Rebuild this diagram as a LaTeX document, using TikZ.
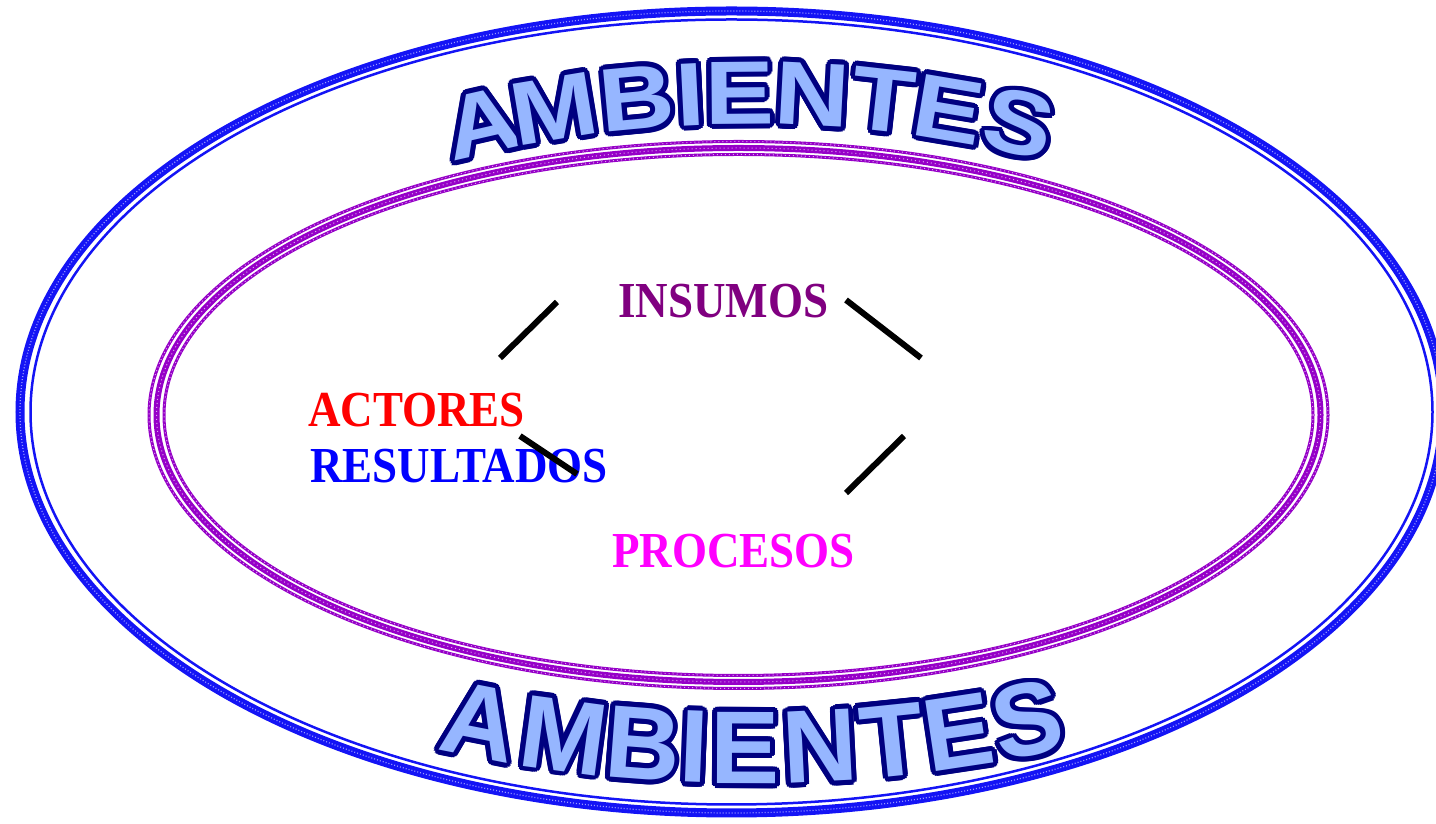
\documentclass[tikz,border=0pt]{standalone}
\usepackage{fontspec}
\setmainfont{Liberation Serif}
\newfontfamily\artfont{Liberation Sans}
\usetikzlibrary{calc}
\definecolor{ringblue}{RGB}{20,20,245}
\definecolor{ringpurple}{RGB}{150,0,200}
\definecolor{artnavy}{RGB}{0,0,128}
\definecolor{artfill}{RGB}{150,182,255}
\definecolor{insumos}{RGB}{128,0,128}
\definecolor{procesos}{RGB}{255,0,255}
\newcommand{\artletter}[4]{%
  \foreach \k [count=\j] in {0,22.5,...,337.5}
    {\node[rotate=#3, shift={(\k:5pt)}, art, text=artnavy] (#1-o\j) at #2 {#4};}
  \node[rotate=#3, art, text=artfill] (#1) at #2 {#4};}

\begin{document}
\begin{tikzpicture}[x=1pt,y=1pt,
  seg/.style={line width=6pt},
  lbl/.style={font=\fontsize{45}{45}\selectfont\bfseries, inner sep=0, anchor=base west, yscale=1.12},
  art/.style={font=\artfont\bfseries\fontsize{90}{90}\selectfont, inner sep=0, xscale=1.15},
  dots/.style={line width=1pt, dash pattern=on 1pt off 3pt}]
\useasboundingbox (0,0) rectangle (1436,824);
\clip (0,0) rectangle (1436,824);
\draw[ringblue, line width=9pt] (731.5,412) ellipse (711.5 and 401);
\draw[blue!40!white, line width=1.2pt, dash pattern=on 1pt off 2pt] (731.5,412) ellipse (711.5 and 401);
\draw[ringblue, line width=2.5pt] (731.5,412) ellipse (701 and 392.5);
\draw[ringpurple, line width=3pt] (738.5,409) ellipse (589.5 and 273.5);
\draw[ringpurple, line width=6pt] (738.5,409) ellipse (582 and 267);
\draw[ringpurple, line width=3pt] (738.5,409) ellipse (574.5 and 260.5);
\draw[white!65!ringpurple, dots] (738.5,409) ellipse (589.5 and 273.5);
\draw[white!65!ringpurple, dots] (738.5,409) ellipse (582 and 267);
\draw[white!65!ringpurple, dots] (738.5,409) ellipse (574.5 and 260.5);
\coordinate (topc) at (750,-469);
\coordinate (botc) at (750,1476);
\foreach \ch/\ang [count=\i] in {A/12.9,M/9.4,B/5.4,I/2.85,E/0.5,N/-3,T/-6.4,E/-9.55,S/-12.95}
  {\artletter{top\i}{($(topc)+(90+\ang:1200)$)}{\ang}{\ch}}
\begin{scope}[art/.append style={yscale=1.15}]
\foreach \ch/\ang [count=\i] in {A/-11.13,M/-7.65,B/-4.38,I/-2.27,E/-0.2,N/2.86,T/5.83,E/8.57,S/11.42}
  {\artletter{bot\i}{($(botc)+(-90+\ang:1400)$)}{\ang}{\ch}}
\end{scope}
\node[lbl, text=insumos] (insumos) at (618,506) {INSUMOS};
\node[lbl, text=red] (actores) at (308,397) {ACTORES};
\node[lbl, text=blue] (resultados) at (310,341) {RESULTADOS};
\node[lbl, text=procesos] (procesos) at (612,256) {PROCESOS};
\coordinate (s1a) at (500,466); \coordinate (s1b) at (557,522);
\coordinate (s2a) at (846,524); \coordinate (s2b) at (921,466);
\coordinate (s3a) at (904,388); \coordinate (s3b) at (846,331);
\coordinate (s4a) at (520,388); \coordinate (s4b) at (577,350);
\draw[seg] (s1a) -- (s1b);
\draw[seg] (s2a) -- (s2b);
\draw[seg] (s3a) -- (s3b);
\draw[seg] (s4a) -- (s4b);
\end{tikzpicture}
\end{document}
